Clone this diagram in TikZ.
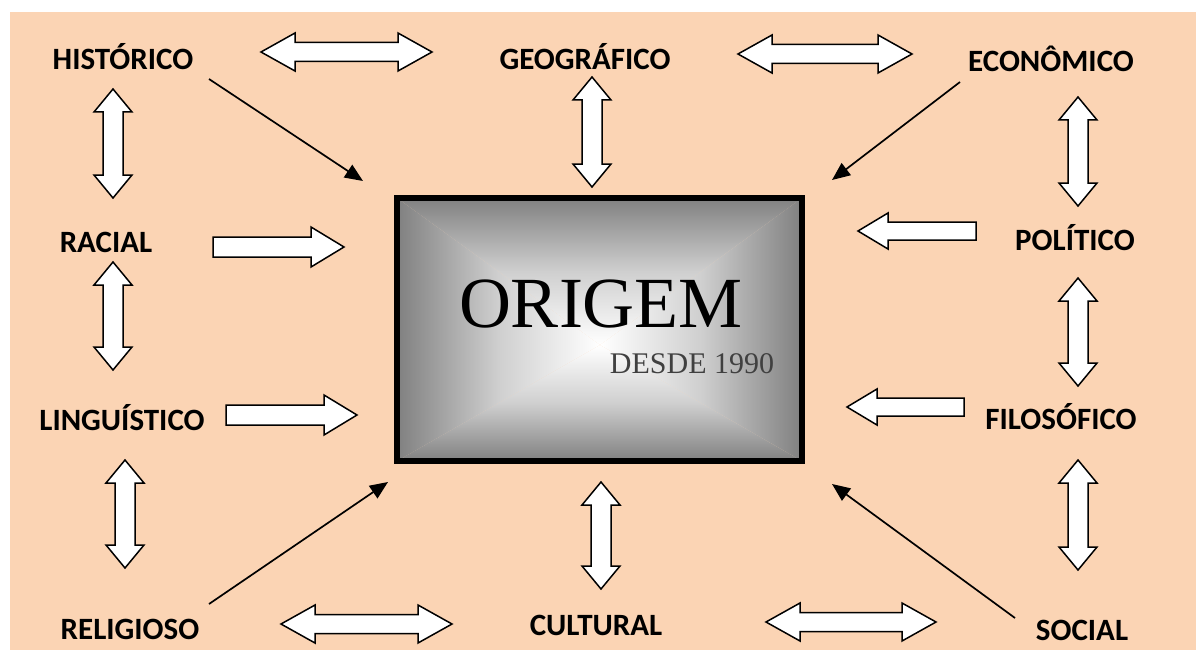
\documentclass[tikz,border=0pt]{standalone}
\usepackage{fontspec}
\usetikzlibrary{calc,arrows.meta}
\newfontfamily\labfont{Carlito}
\newfontfamily\titlefont{Liberation Serif}
\definecolor{peach}{HTML}{FBD4B4}
\definecolor{edgegray}{HTML}{808080}
\definecolor{midgray}{HTML}{CFCFCF}
% double block arrow: #1,#2 tips, #3 head length, #4 head half width, #5 shaft half width
\newcommand\dblarr[5]{\draw[blockarr] (#1) -- ($(#1)!#3!(#2)!#4!90:(#2)$) -- ($(#1)!#3!(#2)!#5!90:(#2)$) -- ($(#2)!#3!(#1)!#5!-90:(#1)$) -- ($(#2)!#3!(#1)!#4!-90:(#1)$) -- (#2) -- ($(#2)!#3!(#1)!#4!90:(#1)$) -- ($(#2)!#3!(#1)!#5!90:(#1)$) -- ($(#1)!#3!(#2)!#5!-90:(#2)$) -- ($(#1)!#3!(#2)!#4!-90:(#2)$) -- cycle;}
% single block arrow: #1 tail, #2 tip
\newcommand\sglarr[5]{\draw[blockarr] (#2) -- ($(#2)!#3!(#1)!#4!90:(#1)$) -- ($(#2)!#3!(#1)!#5!90:(#1)$) -- ($(#1)!#5!-90:(#2)$) -- ($(#1)!#5!90:(#2)$) -- ($(#2)!#3!(#1)!#5!-90:(#1)$) -- ($(#2)!#3!(#1)!#4!-90:(#1)$) -- cycle;}
\begin{document}
\begin{tikzpicture}[x=1pt,y=-1pt,
  lab/.style={font=\labfont\bfseries\fontsize{31}{31}\selectfont, inner sep=0pt, anchor=base},
  blockarr/.style={draw=black, fill=white, line width=1.5pt, line join=miter},
  thinarr/.style={draw=black, line width=1.7pt, -{Triangle[length=18pt,width=15pt]}}]
\useasboundingbox (0,0) rectangle (1196,650);
\fill[white] (0,0) rectangle (1196,650);
\fill[peach] (10,12) rectangle (1196,650);

% central box
\node[minimum width=405pt, minimum height=263pt, inner sep=0pt] (orig) at (599.5,329.5) {};
\coordinate (gc) at (600,345);
\shade[top color=edgegray, bottom color=white, middle color=midgray] (orig.north west) -- (orig.north east) -- (gc) -- cycle;
\shade[bottom color=edgegray, top color=white, middle color=midgray] (orig.south west) -- (orig.south east) -- (gc) -- cycle;
\shade[left color=edgegray, right color=white, middle color=midgray] (orig.north west) -- (orig.south west) -- (gc) -- cycle;
\shade[right color=edgegray, left color=white, middle color=midgray] (orig.north east) -- (orig.south east) -- (gc) -- cycle;
\draw[line width=6pt] (orig.north west) rectangle (orig.south east);
\node[anchor=base, inner sep=0pt, font=\titlefont\fontsize{72}{72}\selectfont] (otitle) at (601,327) {ORIGEM};
\node[anchor=base, inner sep=0pt, text=black!75, font=\titlefont\fontsize{30}{30}\selectfont] (osub) at (692,373) {DESDE 1990};

% labels
\node[lab] (hist) at (123,70) {HISTÓRICO};
\node[lab] (geo)  at (585,70) {GEOGRÁFICO};
\node[lab] (eco)  at (1051,72) {ECONÔMICO};
\node[lab] (rac)  at (106,252) {RACIAL};
\node[lab] (pol)  at (1075,250) {POLÍTICO};
\node[lab] (ling) at (122,430) {LINGUÍSTICO};
\node[lab] (filo) at (1061,429) {FILOSÓFICO};
\node[lab] (reli) at (130,639) {RELIGIOSO};
\node[lab] (cult) at (596,635) {CULTURAL};
\node[lab] (soc)  at (1082,640) {SOCIAL};

% arrow end coordinates
\coordinate (hg1) at (261,52);  \coordinate (hg2) at (432,52);
\coordinate (ge1) at (738,54);  \coordinate (ge2) at (912,54);
\coordinate (rc1) at (281,624); \coordinate (rc2) at (452,624);
\coordinate (cs1) at (766,622); \coordinate (cs2) at (936,622);
\coordinate (hr1) at (113,89);  \coordinate (hr2) at (113,198);
\coordinate (go1) at (592,77);  \coordinate (go2) at (592,187);
\coordinate (rl1) at (113,262); \coordinate (rl2) at (113,370);
\coordinate (lr1) at (125,460); \coordinate (lr2) at (125,568);
\coordinate (co1) at (601,482); \coordinate (co2) at (601,589);
\coordinate (ep1) at (1078,97); \coordinate (ep2) at (1078,206);
\coordinate (pf1) at (1078,278);\coordinate (pf2) at (1078,386);
\coordinate (fs1) at (1078,460);\coordinate (fs2) at (1078,570);
\coordinate (ra1) at (213,247); \coordinate (ra2) at (344,247);
\coordinate (li1) at (226,415); \coordinate (li2) at (357,415);
\coordinate (po1) at (976,231); \coordinate (po2) at (858,231);
\coordinate (fi1) at (964,407); \coordinate (fi2) at (847,407);
\coordinate (th1) at (209,79);  \coordinate (th2) at (363,181);
\coordinate (te1) at (960,82);  \coordinate (te2) at (832,180);
\coordinate (tr1) at (209,604); \coordinate (tr2) at (388,482);
\coordinate (ts1) at (1015,618);\coordinate (ts2) at (832,484);

% double block arrows
\dblarr{hg1}{hg2}{34pt}{19pt}{9.5pt}
\dblarr{ge1}{ge2}{34pt}{19pt}{9.5pt}
\dblarr{rc1}{rc2}{34pt}{19pt}{9.5pt}
\dblarr{cs1}{cs2}{34pt}{19pt}{9.5pt}
\dblarr{hr1}{hr2}{23pt}{19pt}{10pt}
\dblarr{go1}{go2}{23pt}{19pt}{10pt}
\dblarr{rl1}{rl2}{23pt}{19pt}{10pt}
\dblarr{lr1}{lr2}{23pt}{19pt}{10pt}
\dblarr{co1}{co2}{23pt}{19pt}{10pt}
\dblarr{ep1}{ep2}{23pt}{19pt}{10pt}
\dblarr{pf1}{pf2}{23pt}{19pt}{10pt}
\dblarr{fs1}{fs2}{23pt}{19pt}{10pt}

% single block arrows
\sglarr{ra1}{ra2}{33pt}{20pt}{10pt}
\sglarr{li1}{li2}{33pt}{20pt}{10pt}
\sglarr{po1}{po2}{30pt}{18pt}{9pt}
\sglarr{fi1}{fi2}{30pt}{18pt}{9pt}

% thin arrows
\draw[thinarr] (th1) -- (th2);
\draw[thinarr] (te1) -- (te2);
\draw[thinarr] (tr1) -- (tr2);
\draw[thinarr] (ts1) -- (ts2);
\end{tikzpicture}
\end{document}
